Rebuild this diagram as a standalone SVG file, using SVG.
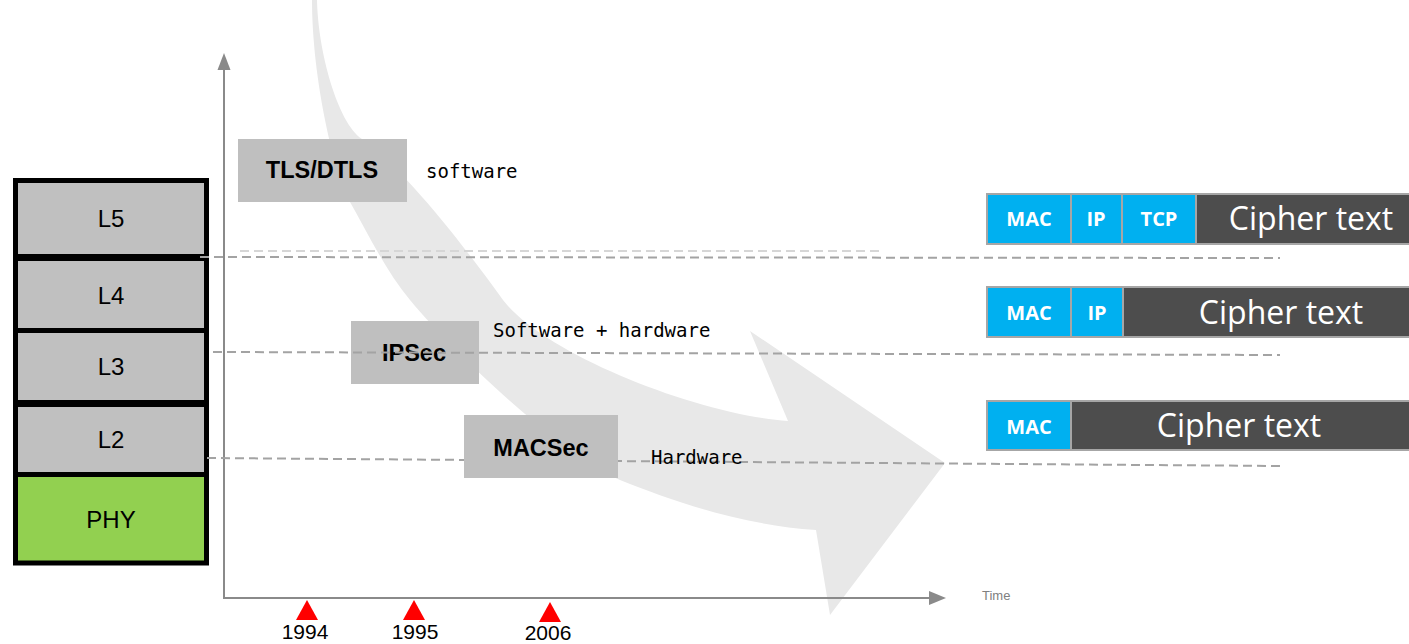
<svg xmlns="http://www.w3.org/2000/svg" width="1409" height="644" viewBox="0 0 1409 644">
<style>
.layer{stroke:#000;stroke-width:5}
.gray{fill:#c0c0c0}
.lbl{font-family:"Liberation Sans",Arial,sans-serif;font-size:24px;fill:#000;text-anchor:middle}
.proto{fill:#bfbfbf}
.pt{font-family:"Liberation Sans",Arial,sans-serif;font-weight:bold;font-size:23.5px;fill:#000;text-anchor:middle}
.mono{font-family:"DejaVu Sans Mono","Liberation Mono",monospace;font-size:19px;fill:#000}
.dash{stroke:#a3a3a3;stroke-width:2;stroke-dasharray:9 5;fill:none}
.dashl{stroke:#d6d6d6;stroke-width:2;stroke-dasharray:9 5;fill:none}
.blue{fill:#00b0f0;stroke:#a6a6a6;stroke-width:2}
.dark{fill:#4d4d4d;stroke:#a6a6a6;stroke-width:2}
.hdr{font-family:"Open Sans","Noto Sans",sans-serif;font-weight:bold;font-size:20px;fill:#fff;text-anchor:middle}
.ct{font-family:"Open Sans","Noto Sans",sans-serif;font-size:32px;fill:#fff;text-anchor:middle}
.axis{stroke:#8a8a8a;stroke-width:2;fill:none}
.year{font-family:"Liberation Sans",Arial,sans-serif;font-size:21px;fill:#000;text-anchor:middle}
.tri{fill:#ff0000}
</style>

<g id="bigArrow">
<path fill="#e8e8e8" d="M312,0 L317,0 C318,50 337,122 362,139 C400,165 460,240 503,300 C545,355 700,415 788,421 L750,331 L945,463 L830,615 L816,530 C740,525 670,500 620,480 C560,452 460,360 410,300 C385,270 365,228 350,202 C335,176 312,80 312,0 Z"/>
</g>

<g id="axes">
<line class="axis" x1="224" y1="599" x2="224" y2="66"/>
<polygon fill="#8a8a8a" points="224,53 217.5,70 230.5,70"/>
<line class="axis" x1="223" y1="598" x2="930" y2="598"/>
<polygon fill="#8a8a8a" points="946,598 929,591 929,605"/>
<text x="982" y="600" font-family="Liberation Sans,Arial,sans-serif" font-size="13" fill="#808080">Time</text>
</g>

<g id="layerStack">
<g id="L5"><rect class="layer gray" x="15.5" y="180.5" width="191" height="76"/><text class="lbl" x="111" y="227">L5</text></g>
<g id="L4"><rect class="layer gray" x="15.5" y="258.5" width="191" height="72"/><text class="lbl" x="111" y="303.5">L4</text></g>
<g id="L3"><rect class="layer gray" x="15.5" y="330.5" width="191" height="72"/><text class="lbl" x="111" y="374.5">L3</text></g>
<g id="L2"><rect class="layer gray" x="15.5" y="404.5" width="191" height="70"/><text class="lbl" x="111" y="447.5">L2</text></g>
<g id="PHY"><rect class="layer" fill="#92d050" x="15.5" y="474.5" width="191" height="88.5"/><text class="lbl" x="111" y="528">PHY</text></g>
</g>

<g id="TLS">
<rect class="proto" x="238" y="139" width="169" height="63"/>
<text class="pt" x="322" y="178">TLS/DTLS</text>
<text class="mono" x="426" y="178">software</text>
</g>

<g id="IPSec">
<rect class="proto" x="351" y="321" width="128" height="63"/>
<text class="pt" x="414" y="361">IPSec</text>
</g>

<g id="connectors">
<line class="dashl" x1="240" y1="251" x2="883" y2="251"/>
<line class="dash" x1="200" y1="257" x2="1280" y2="258"/>
<line class="dash" x1="213" y1="352" x2="1280" y2="355"/>
<line class="dash" x1="207" y1="458" x2="1280" y2="466"/>
</g>

<text class="mono" x="493" y="337">Software + hardware</text>

<g id="MACSec">
<rect class="proto" x="464" y="415" width="154" height="63"/>
<text class="pt" x="541" y="456">MACSec</text>
<text class="mono" x="651" y="464">Hardware</text>
</g>

<g id="packetL5">
<rect class="blue" x="987" y="194" width="84" height="50"/>
<rect class="blue" x="1071" y="194" width="51" height="50"/>
<rect class="blue" x="1122" y="194" width="74" height="50"/>
<rect class="dark" x="1196" y="194" width="220" height="50"/>
<text class="hdr" x="1029" y="226">MAC</text>
<text class="hdr" x="1096" y="226">IP</text>
<text class="hdr" x="1159" y="226">TCP</text>
<text class="ct" x="1311" y="230">Cipher text</text>
</g>

<g id="packetL3">
<rect class="blue" x="987" y="287" width="84" height="50"/>
<rect class="blue" x="1071" y="287" width="52" height="50"/>
<rect class="dark" x="1123" y="287" width="293" height="50"/>
<text class="hdr" x="1029" y="320">MAC</text>
<text class="hdr" x="1097" y="320">IP</text>
<text class="ct" x="1281" y="324">Cipher text</text>
</g>

<g id="packetL2">
<rect class="blue" x="987" y="401" width="84" height="49"/>
<rect class="dark" x="1071" y="401" width="345" height="49"/>
<text class="hdr" x="1029" y="434">MAC</text>
<text class="ct" x="1239" y="437">Cipher text</text>
</g>

<g id="milestones">
<polygon class="tri" points="307,600 296,620 318,620"/>
<text class="year" x="305" y="639">1994</text>
<polygon class="tri" points="414,600 403,620 425,620"/>
<text class="year" x="415" y="639">1995</text>
<polygon class="tri" points="550,602 539,622 561,622"/>
<text class="year" x="548" y="640">2006</text>
</g>
</svg>
